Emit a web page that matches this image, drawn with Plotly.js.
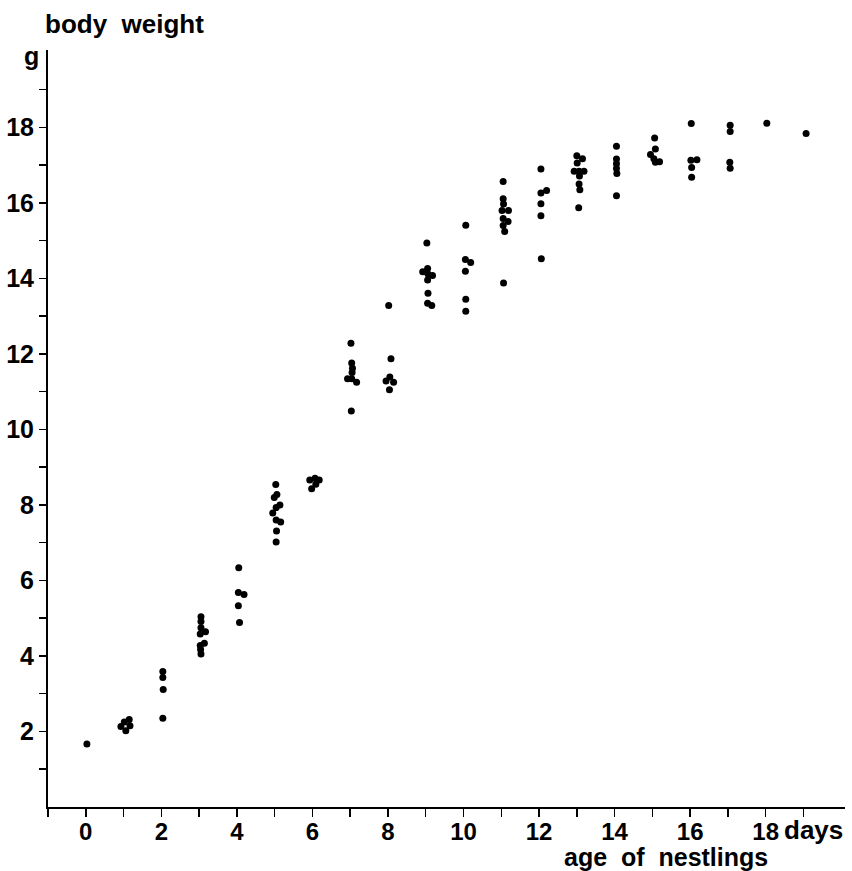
<!DOCTYPE html>
<html>
<head>
<meta charset="utf-8">
<script src="https://cdn.plot.ly/plotly-3.0.1.min.js"></script>
<style>html,body{margin:0;padding:0;background:#fff;}#chart{width:852px;height:871px;}</style>
</head>
<body>
<div id="chart"></div>
<script>
// age of nestlings (days, as placed in the figure) and body weight (g)
const ageDays = [
  0.03,
  0.93, 1.02, 1.15, 1.17, 1.06,
  2.04, 2.04, 2.05, 2.04,
  3.05, 3.05, 3.05, 3.03, 3.17, 3.03, 3.14, 3.04, 3.05,
  4.05, 4.04, 4.19, 4.04, 4.07,
  5.03, 5.06, 4.99, 5.14, 5.04, 4.95, 5.04, 5.16, 5.05, 5.04,
  5.93, 6.07, 6.18, 6.09, 5.98,
  7.02, 7.04, 7.06, 7.05, 6.93, 7.04, 7.17, 7.03,
  8.02, 8.08, 8.05, 7.95, 8.15, 8.04,
  9.03, 9.05, 8.92, 9.06, 9.18, 9.05, 9.06, 9.05, 9.16,
  10.06, 10.05, 10.19, 10.05, 10.06, 10.06,
  11.05, 11.05, 11.06, 11.02, 11.19, 11.05, 11.18, 11.05, 11.09, 11.06,
  12.05, 12.05, 12.2, 12.05, 12.05, 12.06,
  13.0, 13.15, 13.01, 12.93, 13.06, 13.19, 13.07, 13.06, 13.08, 13.05,
  14.05, 14.05, 14.05, 14.05, 14.06, 14.05,
  15.06, 15.08, 14.95, 15.04, 15.08, 15.19,
  16.03, 16.02, 16.18, 16.04, 16.04,
  17.06, 17.06, 17.05, 17.06,
  18.03,
  19.07
];
const weightG = [
  1.67,
  2.13, 2.25, 2.32, 2.15, 2.02,
  3.59, 3.43, 3.11, 2.35,
  5.04, 4.91, 4.75, 4.58, 4.64, 4.28, 4.34, 4.17, 4.05,
  6.34, 5.68, 5.63, 5.33, 4.89,
  8.54, 8.28, 8.2, 8.0, 7.93, 7.79, 7.6, 7.55, 7.31, 7.02,
  8.66, 8.71, 8.66, 8.55, 8.43,
  12.28, 11.76, 11.62, 11.51, 11.34, 11.34, 11.25, 10.49,
  13.28, 11.87, 11.39, 11.28, 11.25, 11.05,
  14.94, 14.26, 14.18, 14.12, 14.08, 13.96, 13.61, 13.34, 13.28,
  15.41, 14.5, 14.42, 14.19, 13.45, 13.13,
  16.57, 16.11, 15.97, 15.8, 15.8, 15.59, 15.51, 15.4, 15.24, 13.88,
  16.9, 16.26, 16.33, 15.98, 15.66, 14.52,
  17.25, 17.17, 17.06, 16.84, 16.84, 16.84, 16.71, 16.5, 16.35, 15.87,
  17.5, 17.16, 17.04, 16.91, 16.78, 16.19,
  17.72, 17.43, 17.28, 17.17, 17.08, 17.09,
  18.1, 17.13, 17.14, 16.94, 16.68,
  18.06, 17.89, 17.08, 16.92,
  18.11,
  17.84
];
const xTickVals = [-1,0,1,2,3,4,5,6,7,8,9,10,11,12,13,14,15,16,17,18,19];
const xTickText = ['','0','','2','','4','','6','','8','','10','','12','','14','','16','','18',''];
const yTickVals = [1,2,3,4,5,6,7,8,9,10,11,12,13,14,15,16,17,18,19];
const yTickText = ['','2','','4','','6','','8','','10','','12','','14','','16','','18',''];
const yAxisTitle = 'body  weight';
const yUnit = 'g';
const xUnit = 'days';
const xAxisTitle = 'age  of  nestlings';

const FONT = '"Liberation Sans", Arial, sans-serif';

const trace = {
  x: ageDays, y: weightG, type: 'scatter', mode: 'markers',
  marker: {color: '#000', size: 7},
  hoverinfo: 'skip', showlegend: false
};

const axisCommon = {
  showgrid: false, zeroline: false, showline: true, linecolor: '#000', linewidth: 2,
  ticks: 'outside', ticklen: 7, tickwidth: 1.5, tickcolor: '#000',
  tickmode: 'array', tickfont: {family: FONT, size: 25, color: '#000', weight: 'bold'}, fixedrange: true
};

const layout = {
  width: 852, height: 871,
  margin: {l: 48, r: 7, t: 50, b: 64},
  paper_bgcolor: '#fff', plot_bgcolor: '#fff',
  font: {family: FONT, color: '#000'},
  xaxis: Object.assign({}, axisCommon, {range: [-1, 20.1], tickvals: xTickVals, ticktext: xTickText, ticklen: 8, ticklabelstandoff: -6, tickfont: {family: FONT, size: 24, color: '#000', weight: 'bold'}}),
  yaxis: Object.assign({}, axisCommon, {range: [0, 20.05], tickvals: yTickVals, ticktext: yTickText}),
  annotations: [
    {text: yAxisTitle, xref: 'paper', yref: 'paper', x: -0.006, y: 1.034, xanchor: 'left', yanchor: 'middle', showarrow: false, font: {family: FONT, size: 26, color: '#000', weight: 'bold'}},
    {text: yUnit, xref: 'paper', yref: 'paper', x: -0.021, y: 0.992, xanchor: 'center', yanchor: 'middle', showarrow: false, font: {family: FONT, size: 25, color: '#000', weight: 'bold'}},
    {text: xUnit, xref: 'paper', yref: 'paper', x: 0.921, y: -0.031, xanchor: 'left', yanchor: 'middle', showarrow: false, font: {family: FONT, size: 26, color: '#000', weight: 'bold'}},
    {text: xAxisTitle, xref: 'paper', yref: 'paper', x: 0.775, y: -0.066, xanchor: 'center', yanchor: 'middle', showarrow: false, font: {family: FONT, size: 25, color: '#000', weight: 'bold'}}
  ]
};

Plotly.newPlot('chart', [trace], layout, {displayModeBar: false, staticPlot: true});
</script>
</body>
</html>
